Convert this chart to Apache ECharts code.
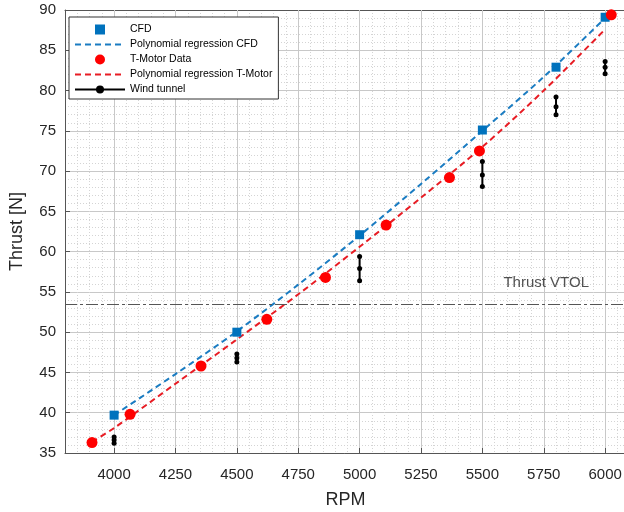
<!DOCTYPE html>
<html>
<head>
<meta charset="utf-8">
<script src="https://cdn.jsdelivr.net/npm/echarts@6/dist/echarts.min.js"></script>
<style>
  html, body { margin: 0; padding: 0; background: #fff; }
  #chart { width: 624px; height: 512px; }
</style>
</head>
<body>
<div id="chart"></div>
<script>
// CFD points
var cfdRpm = [4000, 4500, 5000, 5500, 5800, 6000];
var cfdThrust = [39.7, 50.0, 62.1, 75.1, 82.9, 89.1];
// polynomial regression CFD
var fitCfdRpm = [4000, 4250, 4500, 4750, 5000, 5250, 5500, 5750, 6000];
var fitCfdThrust = [39.7, 44.8, 50.1, 55.9, 62.0, 68.4, 75.0, 81.7, 89.0];
// T-Motor data
var tmRpm = [3910, 4065, 4354, 4622, 4861, 5108, 5366, 5488, 6025];
var tmThrust = [36.3, 39.8, 45.8, 51.6, 56.8, 63.3, 69.2, 72.5, 89.4];
// polynomial regression T-Motor
var fitTmRpm = [3910, 4000, 4250, 4500, 4750, 5000, 5250, 5500, 5750, 6000];
var fitTmThrust = [36.4, 38.1, 43.6, 49.1, 54.7, 60.6, 66.7, 73.0, 80.0, 87.6];
// wind tunnel, three readings per rpm
var windRpm = [4000, 4500, 5000, 5500, 5800, 6000];
var windThrust = [
  [37.0, 36.6, 36.2],
  [47.3, 46.8, 46.3],
  [59.4, 57.9, 56.4],
  [71.2, 69.5, 68.1],
  [79.2, 78.0, 77.0],
  [83.6, 82.9, 82.1]
];
var thrustVtol = 53.5;
var xTicks = [4000, 4250, 4500, 4750, 5000, 5250, 5500, 5750, 6000];

var font = 'Liberation Sans, Arial, sans-serif';

function pairs(xs, ys) {
  var out = [];
  for (var i = 0; i < xs.length; i++) out.push([xs[i], ys[i]]);
  return out;
}

function plain(v) {
  return String(v);
}

var windData = [];
for (var i = 0; i < windRpm.length; i++) {
  for (var j = 0; j < windThrust[i].length; j++) {
    windData.push([windRpm[i], windThrust[i][j]]);
  }
  windData.push([windRpm[i], '-']);
}

var chart = echarts.init(document.getElementById('chart'));

var noSymbol = { color: 'transparent', borderWidth: 0 };

var option = {
  animation: false,
  backgroundColor: '#fff',
  textStyle: { fontFamily: font },
  grid: { left: 65, right: -2, top: 10, bottom: 59, outerBoundsMode: 'none' },
  legend: {
    data: [
      { name: 'CFD', icon: 'path://M0,0h10v10h-10z' },
      { name: 'Polynomial regression CFD', itemStyle: noSymbol },
      { name: 'T-Motor Data' },
      { name: 'Polynomial regression T-Motor', itemStyle: noSymbol },
      { name: 'Wind tunnel' }
    ],
    orient: 'vertical',
    left: 69,
    top: 17,
    itemWidth: 50,
    itemHeight: 10,
    itemGap: 4,
    padding: [7, 6, 4, 5],
    symbolKeepAspect: true,
    borderColor: '#333',
    borderWidth: 1,
    backgroundColor: '#fff',
    textStyle: { fontSize: 10.5, color: '#000', fontFamily: font }
  },
  xAxis: [{
    type: 'value',
    position: 'bottom',
    min: 3800,
    max: 6085,
    z: 1,
    axisLine: { show: true, onZero: false, lineStyle: { color: '#555', width: 1 } },
    axisTick: { show: true, inside: true, length: 5, customValues: xTicks, lineStyle: { color: '#555' } },
    axisLabel: { customValues: xTicks, formatter: plain, color: '#262626', fontSize: 15, margin: 14, fontFamily: font },
    splitLine: { show: true, lineStyle: { color: '#c8c8c8', width: 1 } },
    name: 'RPM',
    nameLocation: 'middle',
    nameGap: 38,
    nameTextStyle: { fontSize: 18, color: '#262626', fontFamily: font }
  }, {
    type: 'value',
    position: 'top',
    min: 3800,
    max: 6085,
    interval: 50,
    z: 0,
    axisLine: { show: true, onZero: false, lineStyle: { color: '#555', width: 1 } },
    axisTick: { show: false },
    axisLabel: { show: false },
    splitLine: { show: true, lineStyle: { color: '#d4d4d4', width: 1, type: [1, 2] } }
  }],
  yAxis: {
    type: 'value',
    min: 35,
    max: 90,
    interval: 5,
    axisLine: { show: true, onZero: false, lineStyle: { color: '#555', width: 1 } },
    axisTick: { show: true, inside: true, length: 5, lineStyle: { color: '#555' } },
    axisLabel: { formatter: plain, color: '#262626', fontSize: 15, margin: 9, fontFamily: font },
    splitLine: { show: true, lineStyle: { color: '#c8c8c8', width: 1 } },
    minorTick: { show: false, splitNumber: 5 },
    minorSplitLine: { show: true, lineStyle: { color: '#d4d4d4', width: 1, type: [1, 2] } },
    name: 'Thrust [N]',
    nameLocation: 'middle',
    nameGap: 39,
    nameTextStyle: { fontSize: 18, color: '#262626', fontFamily: font }
  },
  series: [{
    name: 'CFD',
    type: 'scatter',
    symbol: 'rect',
    symbolSize: 9,
    z: 5,
    itemStyle: { color: '#0072BD', opacity: 1 },
    data: pairs(cfdRpm, cfdThrust)
  }, {
    name: 'Polynomial regression CFD',
    type: 'line',
    symbol: 'none',
    smooth: 0.3,
    z: 3,
    itemStyle: { color: '#1a7cc2' },
    lineStyle: { color: '#1a7cc2', width: 2, type: [6, 4] },
    data: pairs(fitCfdRpm, fitCfdThrust)
  }, {
    name: 'T-Motor Data',
    type: 'scatter',
    symbol: 'circle',
    symbolSize: 11,
    z: 6,
    itemStyle: { color: '#ff0000', opacity: 1 },
    data: pairs(tmRpm, tmThrust)
  }, {
    name: 'Polynomial regression T-Motor',
    type: 'line',
    symbol: 'none',
    smooth: 0.3,
    z: 3,
    itemStyle: { color: '#e81c24' },
    lineStyle: { color: '#e81c24', width: 2, type: [6, 4] },
    data: pairs(fitTmRpm, fitTmThrust)
  }, {
    name: 'Wind tunnel',
    type: 'line',
    symbol: 'circle',
    symbolSize: 5,
    showAllSymbol: true,
    connectNulls: false,
    z: 4,
    itemStyle: { color: '#000' },
    lineStyle: { color: '#000', width: 2 },
    data: windData,
    markLine: {
      silent: true,
      symbol: ['none', 'none'],
      label: { show: false },
      lineStyle: { color: '#555', width: 1, type: [12, 3, 3, 3] },
      data: [{ yAxis: thrustVtol }]
    }
  }, {
    name: 'vtolLabel',
    type: 'scatter',
    symbolSize: 1,
    silent: true,
    itemStyle: { color: 'transparent' },
    label: {
      show: true,
      position: 'inside',
      formatter: 'Thrust VTOL',
      fontSize: 15,
      color: '#262626',
      fontFamily: font
    },
    data: [[5760, 56.1]]
  }]
};

chart.setOption(option);
</script>
</body>
</html>
